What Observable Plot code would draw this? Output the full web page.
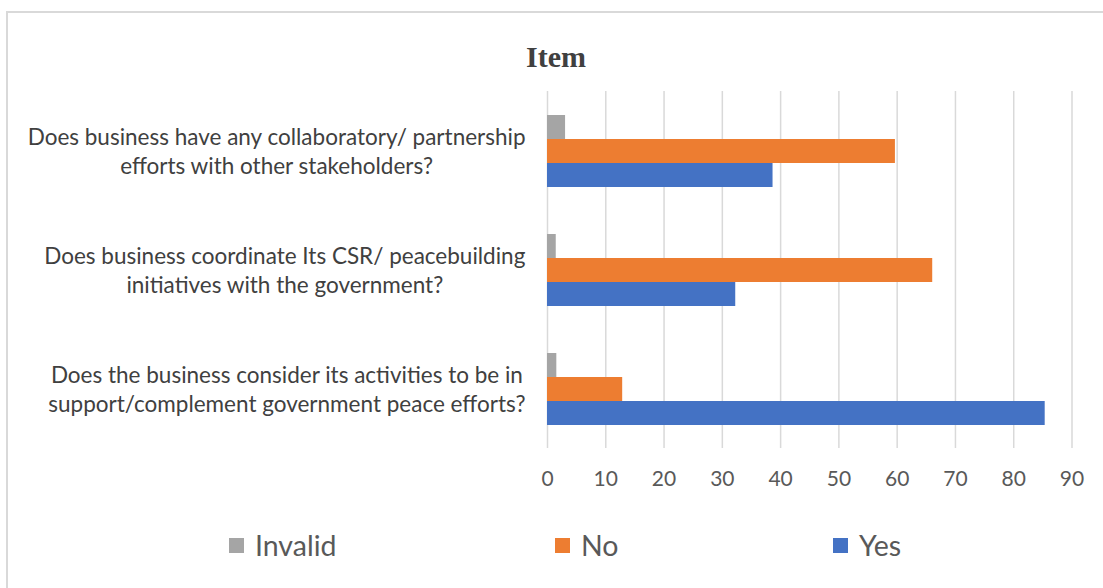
<!DOCTYPE html>
<html>
<head>
<meta charset="utf-8">
<script src="https://cdn.jsdelivr.net/npm/d3@7"></script>
<script src="https://cdn.jsdelivr.net/npm/@observablehq/plot@0.6"></script>
<style>
  html, body { margin: 0; padding: 0; background: #fff; }
  #wrap { position: relative; width: 1103px; height: 588px; overflow: hidden; }
  #frame { position: absolute; left: 6px; top: 11px; width: 1120px; height: 620px; border: 2px solid #d9d9d9; box-sizing: border-box; }
  #title { position: absolute; left: 0; width: 1112px; top: 40px; text-align: center; font: bold 30px "Liberation Serif", "DejaVu Serif", serif; color: #404040; }
  #chart { position: absolute; left: 0; top: 0; }
  #legend { position: absolute; top: 527px; left: 0; width: 1103px; height: 36px; font: 28.5px Lato, sans-serif; color: #595959; }
  .item { position: absolute; top: 0; display: flex; align-items: center; height: 36px; }
  .sw { width: 15px; height: 15px; margin-right: 11px; }
</style>
</head>
<body>
<div id="wrap">
  <div id="frame"></div>
  <div id="title">Item</div>
  <div id="chart"></div>
  <div id="legend"></div>
</div>
<script>
const questions = [
  "Does business have any collaboratory/ partnership\nefforts with other stakeholders?",
  "Does business coordinate Its CSR/ peacebuilding\ninitiatives with the government?",
  "Does the business consider its activities to be in\nsupport/complement government peace efforts?"
];
const series = ["Invalid", "No", "Yes"];
const invalidValues = [3.1, 1.5, 1.6];
const noValues = [59.7, 66.1, 12.9];
const yesValues = [38.7, 32.3, 85.4];
const colors = ["#a5a5a5", "#ed7d31", "#4472c4"];
const tickValues = [0, 10, 20, 30, 40, 50, 60, 70, 80, 90];
const legendLeft = [229, 555, 833];

const valuesBySeries = [invalidValues, noValues, yesValues];
const rows = [];
questions.forEach((q, i) => {
  series.forEach((s, j) => rows.push({question: q, series: s, value: valuesBySeries[j][i]}));
});

const plot = Plot.plot({
  width: 1103,
  height: 500,
  marginLeft: 547,
  marginRight: 31.5,
  marginTop: 90,
  marginBottom: 51,
  style: {fontFamily: "Lato, sans-serif", fontSize: "21px", color: "#595959", background: "transparent"},
  facet: {data: rows, y: "question", marginRight: 0},
  fy: {domain: questions, axis: null, paddingInner: 0, paddingOuter: 0},
  y: {domain: series, axis: null, paddingInner: 0, paddingOuter: 0.92},
  x: {domain: [0, 90], ticks: tickValues, tickSize: 0, tickPadding: 23, label: null, tickFormat: d => String(d)},
  color: {domain: series, range: colors},
  marks: [
    Plot.ruleX(tickValues, {x: d => d, stroke: "#d9d9d9", strokeWidth: 1.5}),
    Plot.barX(rows, {x: "value", y: "series", fill: "series"}),
    Plot.text(rows, {
      filter: d => d.series === "No",
      text: "question", frameAnchor: "left", dx: -22, dy: -1, textAnchor: "end",
      lineAnchor: "middle", lineHeight: 1.29, fill: "#404040", fontSize: 22.5
    })
  ]
});
document.getElementById("chart").appendChild(plot);

// center each multi-line label block, right-aligned against the axis
plot.querySelectorAll("g[aria-label='text'] text").forEach(t => {
  const w = t.getBBox().width;
  t.setAttribute("text-anchor", "middle");
  const spans = t.querySelectorAll("tspan");
  if (spans.length) spans.forEach(s => s.setAttribute("x", -w / 2));
  else t.setAttribute("x", -w / 2);
});

const legend = document.getElementById("legend");
series.forEach((s, i) => {
  const item = document.createElement("div");
  item.className = "item";
  item.style.left = legendLeft[i] + "px";
  const sw = document.createElement("span");
  sw.className = "sw";
  sw.style.background = colors[i];
  const label = document.createElement("span");
  label.textContent = s;
  item.appendChild(sw);
  item.appendChild(label);
  legend.appendChild(item);
});
</script>
</body>
</html>
